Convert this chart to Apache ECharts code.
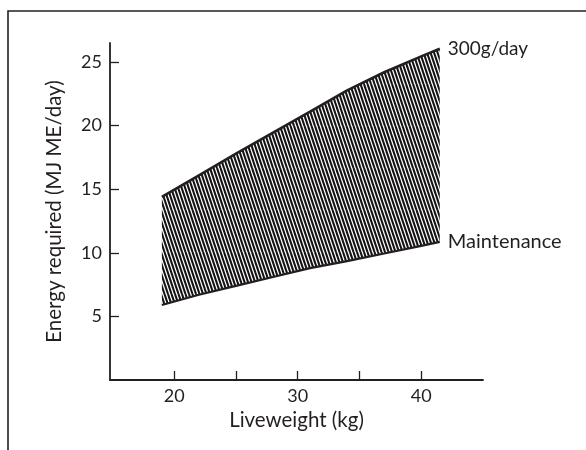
<!DOCTYPE html>
<html>
<head>
<meta charset="utf-8">
<style>
  html, body { margin: 0; padding: 0; background: #ffffff; }
  #chart { width: 586px; height: 450px; }
</style>
<script src="https://cdn.jsdelivr.net/npm/echarts@6/dist/echarts.min.js"></script>
</head>
<body>
<div id="chart"></div>
<script>
// ---- Data ----
const weights = [19, 22, 25, 28, 31, 34, 37, 40, 41.5];          // Liveweight (kg)
const gain300 = [14.4, 16.1, 17.8, 19.45, 21.1, 22.78, 24.2, 25.45, 26.05]; // 300 g/day
const maintenance = [5.9, 6.7, 7.4, 8.1, 8.8, 9.35, 9.95, 10.55, 10.86];     // Maintenance
const xTicks = [20, 25, 30, 35, 40];
const xLabels = [20, 30, 40];
const yTicks = [5, 10, 15, 20, 25];
const seriesNames = ['300g/day', 'Maintenance'];

// ---- Hatch pattern ----
function makeHatch() {
  const c = document.createElement('canvas');
  const w = 14, h = 42;
  c.width = w; c.height = h;
  const ctx = c.getContext('2d');
  ctx.fillStyle = '#ffffff';
  ctx.fillRect(0, 0, w, h);
  ctx.strokeStyle = '#141213';
  ctx.lineWidth = 2.1;
  for (let x0 = -w; x0 <= w; x0 += w / 4) {
    ctx.beginPath();
    ctx.moveTo(x0, 0);
    ctx.lineTo(x0 + w, h);
    ctx.stroke();
  }
  return c;
}
const hatch = { image: makeHatch(), repeat: 'repeat' };

const ink = '#231f20';
const font = 'Lato';

const chart = echarts.init(document.getElementById('chart'), null, { renderer: 'canvas' });
chart.setOption({
  animation: false,
  backgroundColor: '#ffffff',
  graphic: [{
    type: 'polyline',
    shape: { points: [[8, 450], [8, 11], [586, 11]] },
    style: { stroke: ink, lineWidth: 1.6, fill: null },
    silent: true
  }],
  grid: { left: 110, right: 103, top: 43, bottom: 70 },
  xAxis: {
    type: 'value',
    min: 14.8, max: 45,
    splitLine: { show: false },
    axisLine: { lineStyle: { color: ink, width: 1.8 } },
    axisTick: { inside: true, length: 9, customValues: xTicks, lineStyle: { color: ink, width: 1.3 } },
    axisLabel: { customValues: xLabels, color: ink, fontSize: 18, fontFamily: font, margin: 7 },
    name: 'Liveweight (kg)',
    nameLocation: 'middle',
    nameGap: 30,
    nameTextStyle: { color: ink, fontSize: 20.5, fontFamily: font }
  },
  yAxis: {
    type: 'value',
    min: 0, max: 26.5,
    splitLine: { show: false },
    axisLine: { show: true, lineStyle: { color: ink, width: 1.8 } },
    axisTick: { show: true, inside: true, length: 9, customValues: yTicks, lineStyle: { color: ink, width: 1.3 } },
    axisLabel: { customValues: yTicks, color: ink, fontSize: 18, fontFamily: font, margin: 8 },
    name: 'Energy required (MJ ME/day)',
    nameLocation: 'middle',
    nameGap: 45,
    nameTextStyle: { color: ink, fontSize: 20.5, fontFamily: font }
  },
  series: [
    {
      type: 'custom',
      name: 'band',
      silent: true,
      data: weights.map((w, i) => [w, gain300[i], maintenance[i]]),
      renderItem: function (params, api) {
        if (params.dataIndex !== 0) return null;
        const top = weights.map((w, i) => api.coord([w, gain300[i]]));
        const bot = weights.map((w, i) => api.coord([w, maintenance[i]])).reverse();
        return {
          type: 'polygon',
          shape: { points: top.concat(bot) },
          style: { fill: hatch, stroke: null }
        };
      },
      z: 1
    },
    {
      type: 'line',
      name: seriesNames[0],
      data: weights.map((w, i) => [w, gain300[i]]),
      symbol: 'none',
      lineStyle: { color: ink, width: 2.6 },
      endLabel: { show: true, formatter: seriesNames[0], color: ink, fontSize: 19, fontFamily: font, distance: 8 },
      z: 3
    },
    {
      type: 'line',
      name: seriesNames[1],
      data: weights.map((w, i) => [w, maintenance[i]]),
      symbol: 'none',
      lineStyle: { color: ink, width: 2.2 },
      endLabel: { show: true, formatter: seriesNames[1], color: ink, fontSize: 20, fontFamily: font, distance: 8 },
      z: 3
    }
  ]
});
</script>
</body>
</html>
